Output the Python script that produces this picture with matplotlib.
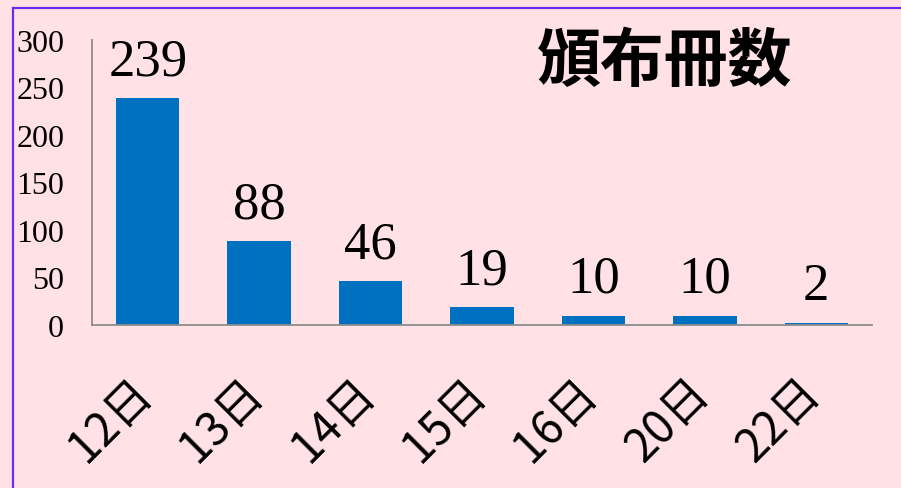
import matplotlib.pyplot as plt
from matplotlib.lines import Line2D
from matplotlib.transforms import ScaledTranslation

days = ['12日', '13日', '14日', '15日', '16日', '20日', '22日']
copies = [239, 88, 46, 19, 10, 10, 2]
yticks = [0, 50, 100, 150, 200, 250, 300]
title = '頒布冊数'

bg = '#ffe1e6'
bar_color = '#0070c0'
axis_gray = '#8c8c8c'
border = '#6a2cf0'

fig = plt.figure(figsize=(9.01, 4.89), dpi=100, facecolor=bg)
ax = fig.add_axes([92/901, 1 - 326/489, 780/901, 285/489])
ax.set_facecolor(bg)

x = range(len(days))
bars = ax.bar(x, copies, width=0.57, color=bar_color)
ax.set_xlim(-0.5, len(days) - 0.5)
ax.set_ylim(0, 300)

for xi, v in zip(x, copies):
    ax.annotate(str(v), (xi, v), xytext=(0, 17), textcoords='offset points',
                ha='center', va='baseline', fontsize=38,
                family='Liberation Serif', color='black')

ax.set_yticks(yticks)
ax.set_yticklabels([str(t) for t in yticks], family='Liberation Serif', fontsize=23)
ax.tick_params(axis='y', length=0, pad=20)
ax.set_xticks(list(x))
ax.set_xticklabels(days, rotation=45, ha='right', rotation_mode='default',
                   family=['Noto Sans CJK JP', 'DejaVu Sans'], fontsize=33)
ax.tick_params(axis='x', length=0, pad=31)
# nudge the rotated labels to the right, like the original
shift = ScaledTranslation(14/100, 0, fig.dpi_scale_trans)
for lbl in ax.get_xticklabels():
    lbl.set_transform(lbl.get_transform() + shift)

for side in ['top', 'right']:
    ax.spines[side].set_visible(False)
ax.spines['left'].set_color(axis_gray)
ax.spines['bottom'].set_color(axis_gray)
ax.spines['left'].set_linewidth(1.3)
ax.spines['bottom'].set_linewidth(1.3)

fig.text(665/901, 1 - 62/489, title, ha='center', va='center',
         fontsize=46, fontweight='bold', family='Noto Sans CJK JP')

# purple frame around the chart area
fig.add_artist(Line2D([13/901, 13/901], [0, 1 - 9/489], transform=fig.transFigure,
                      color=border, linewidth=1.6))
fig.add_artist(Line2D([13/901, 1], [1 - 9/489, 1 - 9/489], transform=fig.transFigure,
                      color=border, linewidth=1.6))

fig.savefig('out.png', dpi=100, facecolor=bg)
